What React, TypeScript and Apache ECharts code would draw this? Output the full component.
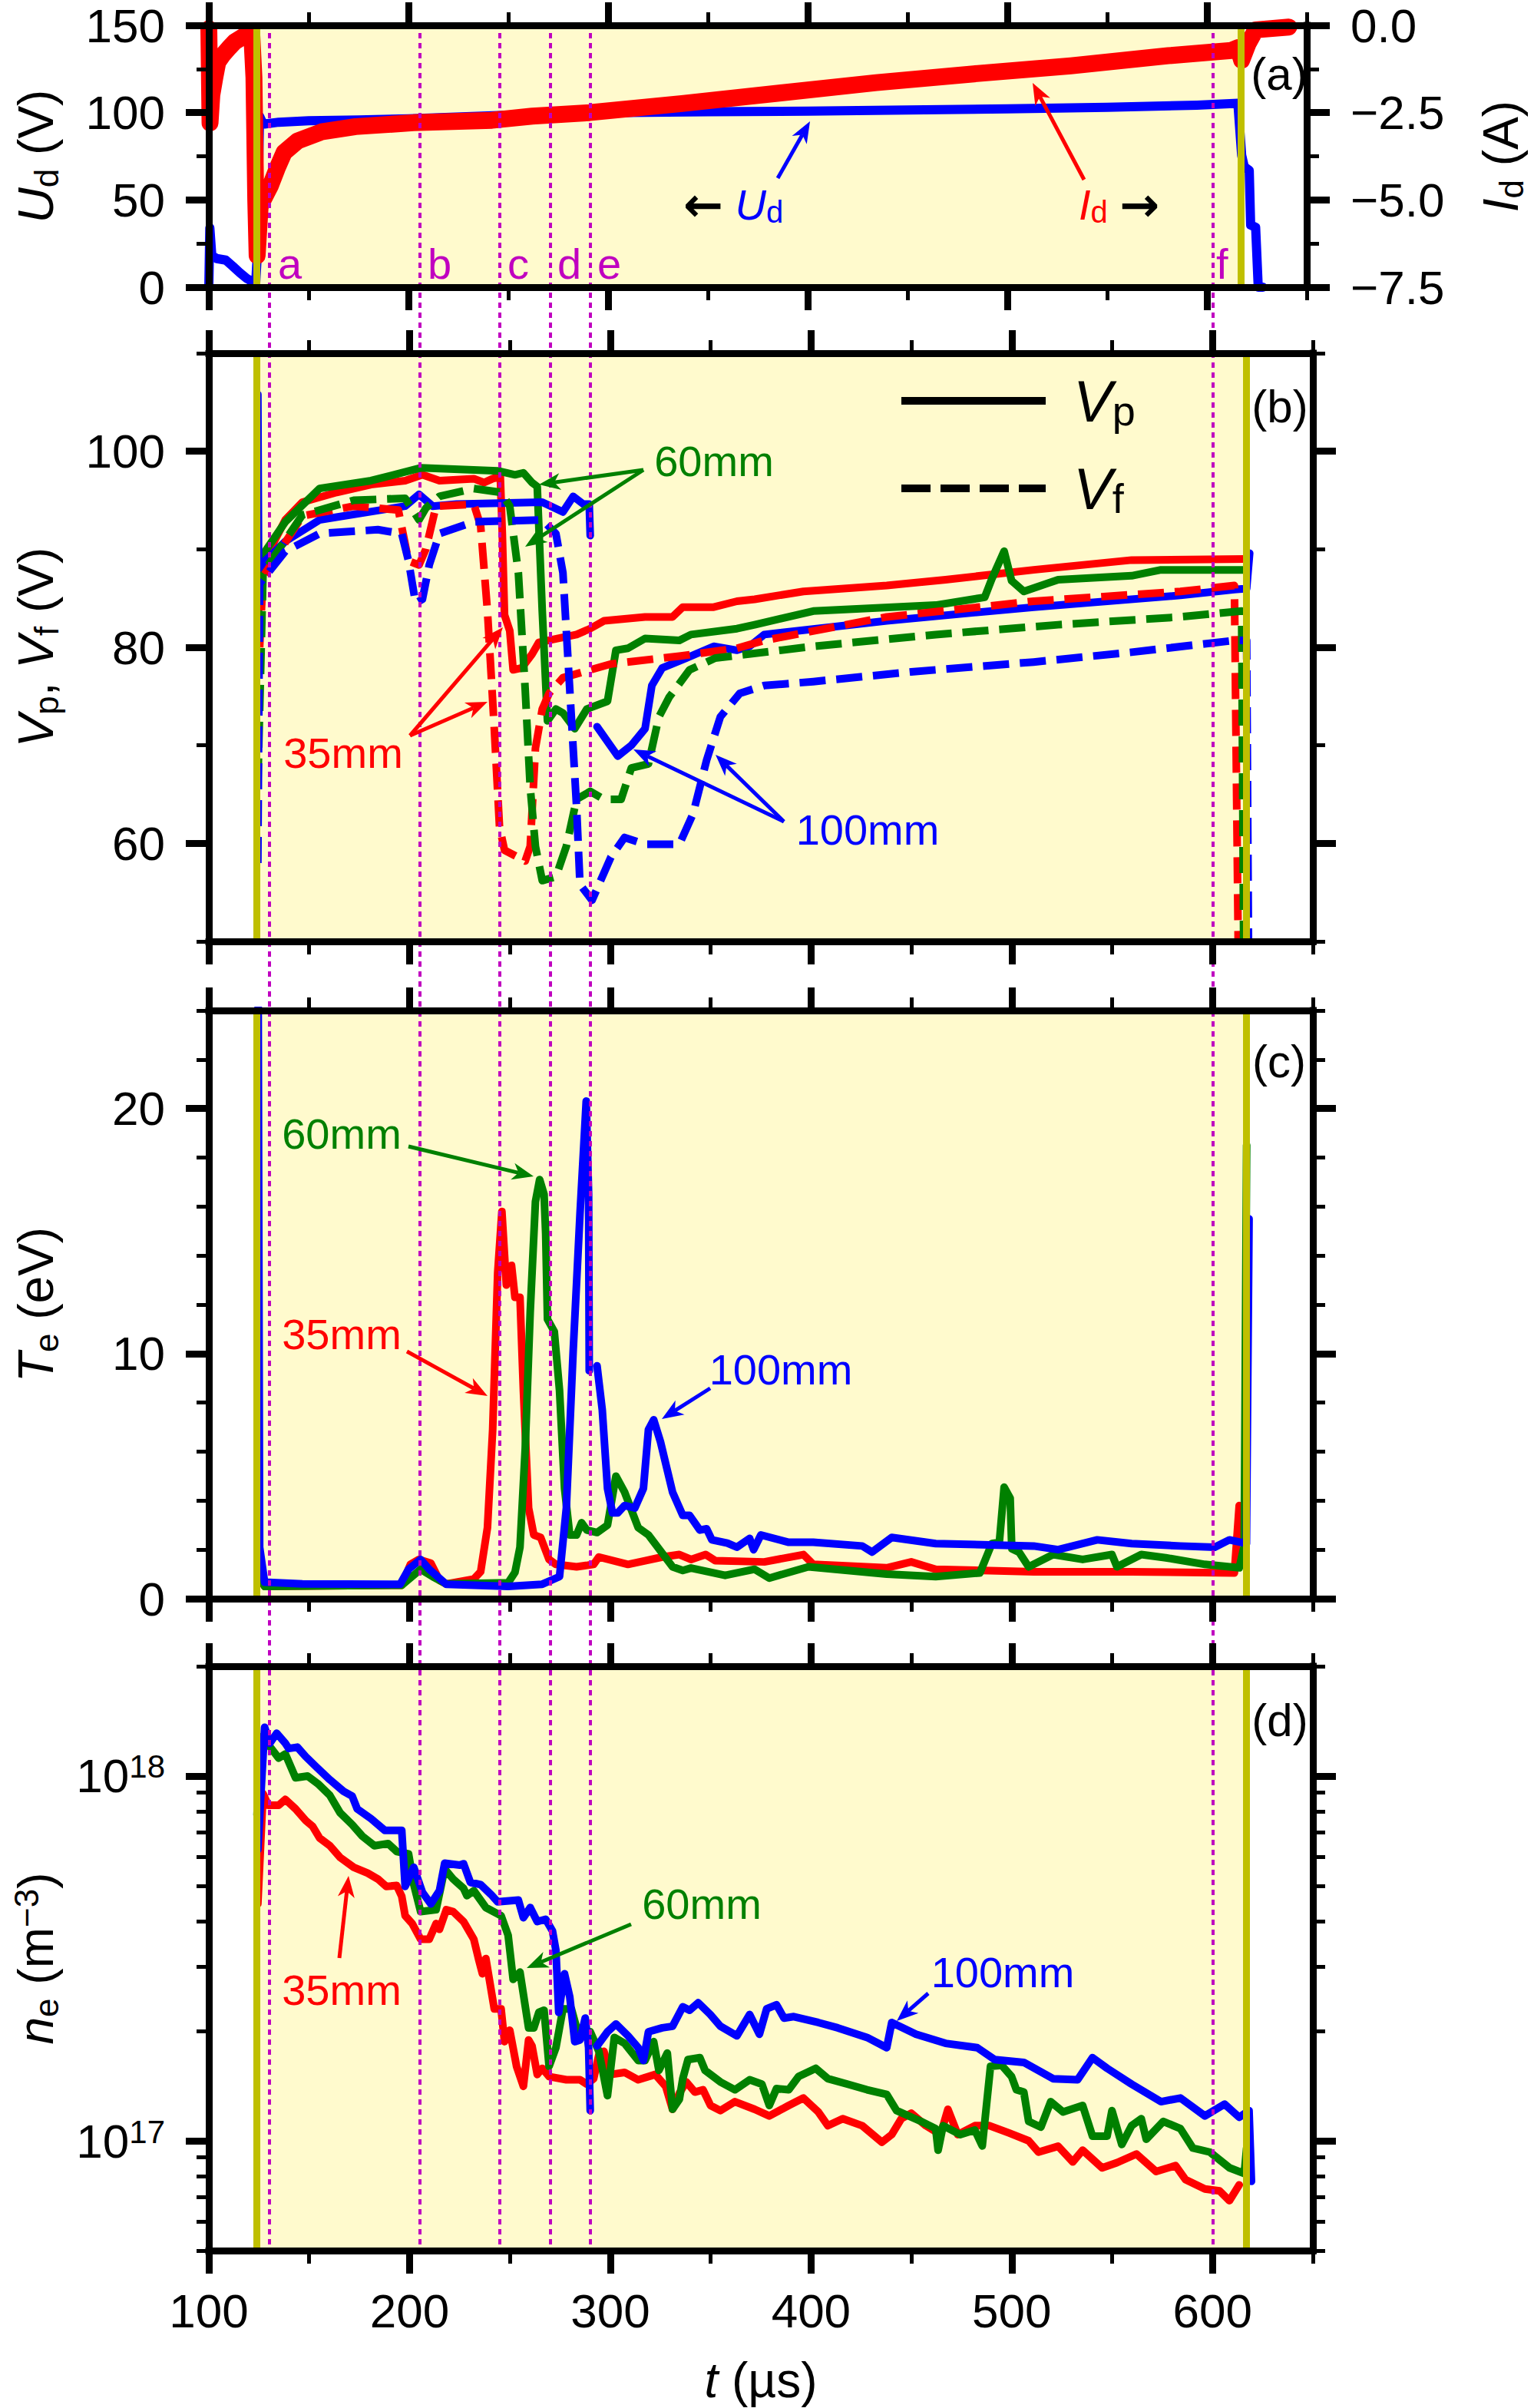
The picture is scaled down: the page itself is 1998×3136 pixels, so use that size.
import React, { useEffect, useRef } from "react";
import * as echarts from "echarts";

type Pt = [number, number | null];

// ---------- axis ticks ----------
const X_MAJOR = [100, 200, 300, 400, 500, 600];
const X_MINOR = [150, 250, 350, 450, 550, 650];
const UD_MAJOR = [0, 50, 100, 150];
const UD_MINOR = [25, 75, 125];
const ID_MAJOR = [-7.5, -5, -2.5, 0];
const ID_MINOR = [-6.25, -3.75, -1.25];
const V_MAJOR = [60, 80, 100];
const V_MINOR = [50, 70, 90, 110];
const TE_MAJOR = [0, 10, 20];
const TE_MINOR = [2, 4, 6, 8, 12, 14, 16, 18, 22, 24];
const NE_MAJOR = [1e17, 1e18];
const NE_MINOR = [5e16, 6e16, 7e16, 8e16, 9e16, 2e17, 3e17, 4e17, 5e17, 6e17, 7e17, 8e17, 9e17, 2e18];

// ---------- events ----------
const MARKER_T = [130, 205, 245, 270, 290, 600];
const MARKER_LABELS = ["a", "b", "c", "d", "e", "f"];
const BAND_T = [124, 617];

// ---------- (a) discharge voltage (V) and current (A) ----------
const UD: Pt[] = [
  [100, 0], [100.5, 34], [101.5, 18], [104, 16.4], [108.5, 15.5], [112, 12], [115.5, 8.3], [119, 5],
  [122, 3], [123.4, 1], [124.2, 17], [125.4, 97.9], [126.6, 95], [128, 93.5], [135, 94.5], [150, 95.3],
  [175, 95.8], [200, 96.5], [250, 98.5], [300, 100], [350, 100.5], [400, 100.8], [450, 101.5],
  [500, 102.2], [550, 103], [595, 104.3], [615.5, 105.3], [617.4, 75.6], [618.7, 69], [621.2, 66.9],
  [621.9, 35.6], [624.4, 34.3], [625.7, 0], [628, 0],
];
const ID: Pt[] = [
  [100, -0.1], [100.6, -2.8], [101.5, -2.0], [103, -1.5], [104.5, -1.05], [107, -0.85], [110, -0.65],
  [113, -0.47], [117, -0.33], [121.5, -0.24], [122.6, -1.5], [123.5, -5.0], [124.2, -6.6], [125.7, -5.2],
  [127.4, -4.98], [130.8, -4.6], [134.2, -4.1], [137.7, -3.64], [144.5, -3.31], [156.5, -3.05],
  [173.5, -2.9], [202.5, -2.79], [241.8, -2.72], [262, -2.6], [290.7, -2.5], [337, -2.24], [385.7, -1.94],
  [434.4, -1.64], [483.2, -1.39], [531.8, -1.16], [580.6, -0.87], [612.2, -0.72], [615.5, -0.64],
  [617.4, -1.0], [620.6, -0.53], [624.4, -0.13], [641, -0.05],
];

// ---------- (b) plasma potential Vp and floating potential Vf (V) ----------
const VP_35: Pt[] = [
  [125.3, 84], [127.0, 88.0], [129.6, 89.6], [138.1, 93.0], [146.6, 94.8], [163.7, 95.8], [180.8, 96.6],
  [197.8, 97.0], [206.4, 97.6], [214.9, 97.0], [232.0, 97.2], [237.1, 96.8], [241.4, 97.2], [245.2, 97.4],
  [246.2, 91.6], [247.3, 83.3], [249.9, 81.7], [251.6, 77.7], [255.9, 77.9], [261.0, 79.3], [264.4, 80.5],
  [283.2, 81.3], [289.9, 81.9], [296.8, 82.7], [317.3, 83.1], [331.0, 83.1], [336.1, 84.1], [351.5, 84.1],
  [363.1, 84.7], [371.9, 84.9], [396.2, 85.7], [437.7, 86.3], [467.0, 86.9], [510.9, 87.9], [559.7, 88.9],
  [615.8, 89.0],
];
const VP_60: Pt[] = [
  [125.3, 84], [126.1, 89.2], [138.1, 92.8], [155.2, 96.2], [180.8, 97.0], [205.5, 98.3], [243.9, 98.0],
  [252.5, 97.6], [256.7, 97.8], [261.0, 96.8], [263.6, 96.4], [266.1, 83.7], [268.7, 72.5], [272.9, 73.7],
  [276.4, 73.3], [282.3, 71.7], [288.3, 73.7], [298.6, 74.5], [302.8, 79.7], [308.8, 79.9], [317.3, 80.9],
  [334.4, 80.7], [340.2, 81.3], [363.1, 81.9], [371.9, 82.3], [401.1, 83.7], [462.1, 84.3], [486.5, 85.1],
  [490.1, 87.0], [496.2, 89.8], [499.9, 86.8], [506.0, 85.7], [523.1, 86.9], [559.7, 87.3], [574.3, 87.9],
  [615.8, 87.9],
];
const VP_100: Pt[] = [
  [124.4, 105.8], [124.8, 88.0], [127.0, 88.6], [138.1, 90.8], [155.2, 93.0], [197.8, 94.4], [204.7, 95.6],
  [211.5, 94.4], [223.4, 94.6], [266.1, 94.8], [276.4, 93.8], [281.5, 95.4], [286.6, 94.6], [289.5, 94.6],
  [290.0, 91.4], [290.6, null], [293.4, 71.9], [303.7, 68.9], [310.5, 70.0], [317.3, 71.7], [320.7, 76.1],
  [325.9, 77.9], [337.8, 78.9], [351.5, 80.1], [363.1, 79.7], [369.4, 80.1], [376.7, 81.3], [437.7, 82.7],
  [510.9, 84.1], [584.0, 85.3], [610.9, 85.9], [617.0, 86.0], [618.5, 89.6],
];
const VF_35: Pt[] = [
  [125.3, 80], [127.0, 87.2], [146.6, 93.4], [172.2, 94.4], [194.4, 94.0], [199.5, 88.8], [204.7, 88.4],
  [208.1, 90.0], [213.2, 94.4], [232.0, 94.6], [235.4, 92.4], [238.8, 83.7], [242.2, 71.7], [244.8, 61.7],
  [247.3, 59.3], [257.6, 58.2], [260.1, 59.7], [262.7, 69.7], [266.1, 73.7], [269.5, 75.3], [276.4, 76.9],
  [300.3, 78.3], [334.4, 79.1], [363.1, 79.9], [376.7, 80.7], [437.7, 83.1], [510.9, 84.7], [584.0, 85.7],
  [610.9, 86.3], [613.3, 40],
];
const VF_60: Pt[] = [
  [124.4, 66], [127.0, 87.6], [146.6, 93.5], [172.2, 95.0], [197.8, 95.2], [204.7, 93.0], [208.1, 94.2],
  [214.9, 95.4], [232.0, 96.2], [245.6, 95.8], [249.9, 94.4], [254.2, 87.6], [257.6, 75.7], [260.1, 65.7],
  [262.7, 59.7], [266.1, 56.2], [272.9, 56.6], [278.1, 59.7], [283.2, 64.5], [290.0, 65.3], [296.8, 64.5],
  [305.4, 64.5], [310.5, 67.7], [319.0, 68.1], [324.2, 72.9], [329.3, 74.9], [339.5, 77.7], [352.3, 78.9],
  [401.1, 80.1], [462.1, 81.3], [523.1, 82.3], [584.0, 83.1], [614.5, 83.7], [615.8, 40],
];
const VF_100: Pt[] = [
  [124.4, 58.0], [125.3, 86.5], [138.1, 89.8], [155.2, 91.6], [184.2, 92.0], [196.1, 91.6], [199.5, 88.8],
  [203.0, 84.5], [206.4, 84.9], [209.8, 88.4], [214.9, 91.6], [232.0, 92.8], [266.1, 93.0], [272.9, 91.6],
  [276.4, 87.6], [279.8, 75.7], [283.2, 63.7], [284.9, 55.8], [290.9, 54.2], [300.3, 58.6], [307.1, 60.6],
  [317.3, 59.9], [334.4, 59.9], [341.2, 63.0], [348.0, 68.5], [354.8, 72.9], [364.5, 75.3], [376.7, 76.1],
  [401.1, 76.5], [449.9, 77.5], [510.9, 78.5], [559.7, 79.5], [610.9, 80.7], [617.0, 80.7], [618.2, 40],
];

// ---------- (c) electron temperature (eV) ----------
const TE_35: Pt[] = [
  [124.4, 3.0], [125.3, 0.8], [127.8, 0.5], [196.1, 0.55], [200.4, 1.4], [204.7, 1.6], [210.6, 1.45],
  [214.9, 0.75], [218.3, 0.6], [232.0, 0.8], [235.4, 1.1], [238.8, 2.9], [241.4, 6.9], [243.9, 13.3],
  [246.0, 15.8], [248.2, 12.8], [250.8, 13.6], [252.5, 12.3], [255.0, 12.3], [256.7, 8.5], [259.3, 3.7],
  [261.9, 2.6], [265.3, 2.5], [269.5, 1.6], [272.9, 1.4], [283.2, 1.3], [291.7, 1.4], [294.3, 1.7],
  [308.8, 1.4], [317.3, 1.55], [325.9, 1.7], [334.4, 1.8], [340.2, 1.6], [347.5, 1.8], [352.3, 1.55],
  [376.7, 1.5], [396.2, 1.8], [401.1, 1.4], [437.7, 1.26], [449.9, 1.5], [462.1, 1.2], [510.9, 1.1],
  [559.7, 1.1], [610.9, 1.05], [613.3, 3.8],
];
const TE_60: Pt[] = [
  [124.4, 6.8], [125.3, 1.0], [127.8, 0.5], [196.1, 0.55], [205.5, 1.2], [211.5, 0.9], [218.3, 0.6],
  [249.1, 0.65], [252.5, 1.07], [255.0, 2.1], [257.6, 6.1], [260.1, 11.7], [262.7, 16.2], [264.8, 17.1],
  [267.0, 16.5], [267.8, 14.9], [268.7, 11.4], [272.1, 10.9], [274.7, 8.5], [277.2, 4.5], [279.8, 2.6],
  [283.2, 2.6], [285.7, 3.1], [288.3, 2.8], [293.4, 2.7], [298.6, 3.0], [302.8, 5.0], [307.1, 4.35],
  [313.9, 2.9], [319.0, 2.6], [325.0, 1.95], [331.0, 1.3], [336.1, 1.15], [340.2, 1.25], [357.2, 0.95],
  [371.9, 1.2], [379.2, 0.84], [398.7, 1.3], [437.7, 1.0], [462.1, 0.9], [484.1, 1.05], [490.1, 2.25],
  [493.8, 2.3], [496.2, 4.55], [499.2, 4.1], [500.0, 2.04], [503.6, 1.9], [508.4, 1.3], [520.6, 1.8],
  [535.3, 1.6], [549.9, 1.8], [552.4, 1.3], [564.5, 1.8], [576.7, 1.67], [596.2, 1.4], [613.3, 1.26],
  [615.8, 2.15], [617.0, 18.5],
];
const TE_100: Pt[] = [
  [124.4, 30], [125.3, 2.1], [127.8, 0.67], [146.6, 0.6], [195.3, 0.59], [199.5, 1.2], [205.5, 1.6],
  [209.8, 1.2], [218.3, 0.59], [249.1, 0.5], [266.1, 0.59], [274.7, 0.9], [278.1, 3.7], [281.5, 10.1],
  [284.9, 15.7], [288.0, 20.3], [289.2, 16.5], [289.5, 9.3], [291.0, null], [293.4, 9.5], [296.0, 7.7],
  [298.6, 4.5], [301.1, 3.5], [303.7, 3.5], [307.1, 3.8], [312.2, 3.7], [316.5, 4.5], [319.0, 6.9],
  [321.6, 7.3], [325.0, 6.4], [331.0, 4.35], [336.1, 3.4], [339.5, 3.4], [344.6, 2.8], [348.0, 2.85],
  [350.6, 2.4], [358.3, 2.27], [363.1, 2.1], [369.4, 2.46], [371.4, 2.0], [375.0, 2.6], [388.9, 2.3],
  [401.1, 2.3], [425.5, 2.15], [430.4, 1.9], [440.2, 2.5], [462.1, 2.25], [510.9, 2.15], [523.1, 2.0],
  [542.6, 2.4], [559.7, 2.25], [584.0, 2.15], [601.1, 2.1], [608.4, 2.4], [616.9, 2.25], [618.2, 15.5],
];

// ---------- (d) electron density (x1e17 m^-3) ----------
const NE_UNIT = 1e17;
const NE_35: Pt[] = [
  [124.4, 4.46], [127.0, 8.95], [129.6, 8.32], [134.8, 8.32], [138.1, 8.63], [143.2, 8.13], [148.3, 7.55],
  [151.7, 7.28], [155.2, 6.76], [160.3, 6.44], [165.4, 5.98], [172.2, 5.62], [179.1, 5.42], [184.2, 5.22],
  [188.4, 4.98], [193.6, 5.01], [196.1, 4.68], [197.8, 4.14], [201.3, 3.94], [205.5, 3.57], [209.8, 3.57],
  [213.2, 3.94], [214.9, 3.8], [218.3, 4.3], [221.7, 4.25], [226.9, 3.99], [232.0, 3.57], [234.5, 3.13],
  [236.3, 2.87], [238.0, 3.16], [242.2, 2.3], [245.6, 2.3], [247.3, 1.87], [249.9, 2.01], [253.3, 1.6],
  [256.7, 1.41], [259.3, 1.89], [261.0, 1.82], [263.6, 1.52], [266.1, 1.58], [269.5, 1.5], [278.1, 1.47],
  [284.9, 1.47], [288.3, 1.43], [291.7, 1.48], [294.3, 1.72], [296.8, 1.76], [300.3, 1.52], [307.1, 1.54],
  [313.9, 1.47], [322.4, 1.52], [327.6, 1.41], [331.0, 1.22], [334.4, 1.35], [337.8, 1.45], [342.1, 1.36],
  [346.2, 1.38], [349.9, 1.25], [354.8, 1.21], [362.1, 1.28], [371.9, 1.22], [379.2, 1.17], [388.9, 1.25],
  [396.2, 1.31], [403.6, 1.2], [408.4, 1.1], [415.8, 1.15], [425.5, 1.1], [435.3, 0.991], [440.2, 1.04],
  [445.0, 1.15], [449.9, 1.19], [457.2, 1.1], [464.5, 1.04], [468.2, 1.22], [473.1, 1.04], [481.6, 1.1],
  [488.9, 1.1], [498.7, 1.05], [508.4, 1.0], [513.3, 0.931], [523.1, 0.966], [530.4, 0.875], [535.3, 0.942],
  [545.0, 0.843], [552.4, 0.871], [562.1, 0.92], [571.9, 0.824], [581.6, 0.855], [586.5, 0.783],
  [596.2, 0.738], [603.5, 0.729], [608.4, 0.685], [613.3, 0.757],
];
const NE_60: Pt[] = [
  [124.0, 7.83], [126.1, 12.8], [129.6, 12.2], [134.8, 11.2], [138.1, 11.5], [143.2, 9.89], [149.2, 10.0],
  [154.3, 9.53], [160.3, 8.85], [165.4, 7.93], [171.4, 7.36], [176.5, 6.84], [182.5, 6.44], [189.3, 6.53],
  [193.6, 6.21], [199.5, 6.12], [202.1, 5.04], [205.5, 4.25], [213.2, 4.3], [217.5, 5.56], [221.7, 5.22],
  [226.9, 4.92], [228.6, 4.7], [232.0, 4.85], [238.0, 4.36], [245.6, 4.14], [249.1, 3.66], [251.6, 2.77],
  [255.0, 2.9], [259.3, 2.04], [261.9, 2.04], [264.4, 2.25], [267.0, 2.28], [269.5, 1.6], [272.9, 1.8],
  [276.4, 2.3], [280.6, 2.3], [283.2, 2.04], [285.7, 1.99], [290.0, 1.99], [294.3, 1.76], [298.6, 1.33],
  [302.0, 1.92], [307.1, 1.85], [313.9, 1.66], [317.3, 1.66], [321.6, 1.87], [324.2, 1.56], [328.4, 1.74],
  [331.0, 1.22], [334.4, 1.3], [336.1, 1.48], [338.7, 1.67], [344.6, 1.69], [347.2, 1.56], [354.8, 1.45],
  [362.1, 1.38], [369.4, 1.47], [375.5, 1.43], [379.2, 1.25], [382.8, 1.39], [388.9, 1.38], [393.8, 1.5],
  [402.3, 1.58], [408.4, 1.48], [418.2, 1.43], [427.9, 1.38], [437.7, 1.34], [442.6, 1.21], [454.8, 1.13],
  [462.1, 1.08], [463.3, 0.942], [465.8, 1.1], [474.3, 1.04], [481.6, 1.07], [485.3, 0.968], [489.4, 1.6],
  [495.0, 1.61], [499.9, 1.5], [502.3, 1.38], [506.0, 1.36], [508.4, 1.13], [514.5, 1.09], [519.4, 1.28],
  [525.5, 1.2], [535.3, 1.25], [540.2, 1.03], [547.5, 1.03], [549.9, 1.21], [554.8, 0.977], [559.7, 1.1],
  [564.5, 1.15], [567.0, 1.01], [575.5, 1.13], [584.0, 1.08], [590.2, 0.955], [598.7, 0.931], [608.5, 0.843],
  [615.8, 0.813], [617.0, 0.955], [618.2, 0.794],
];
const NE_100: Pt[] = [
  [124.4, 6.28], [127.8, 13.6], [130.4, 12.3], [133.8, 13.1], [138.1, 12.3], [139.8, 11.9], [144.1, 12.0],
  [148.3, 11.3], [153.5, 10.6], [160.3, 9.77], [167.1, 9.08], [171.4, 8.81], [173.9, 8.13], [180.8, 7.64],
  [187.6, 7.1], [196.1, 7.1], [197.8, 4.98], [202.1, 5.62], [206.4, 4.8], [210.6, 4.46], [214.9, 4.85],
  [217.5, 5.77], [225.1, 5.7], [226.9, 5.75], [230.3, 5.11], [235.4, 5.04], [240.5, 4.74], [243.9, 4.52],
  [254.2, 4.57], [256.7, 4.09], [260.1, 4.36], [263.6, 3.99], [267.8, 4.05], [271.2, 3.76], [272.9, 3.33],
  [274.3, 2.25], [277.2, 2.87], [279.8, 2.48], [282.3, 1.87], [284.9, 1.89], [287.5, 2.17], [289.2, 1.8],
  [290.0, 1.21], [291.0, null], [293.4, 1.82], [298.6, 1.99], [302.8, 2.09], [308.8, 1.94], [313.9, 1.8],
  [316.5, 1.66], [319.0, 1.99], [325.9, 2.04], [331.0, 2.06], [336.1, 2.33], [339.5, 2.28], [343.8, 2.39],
  [349.8, 2.22], [354.9, 2.06], [363.1, 1.94], [369.4, 2.22], [374.3, 1.96], [377.9, 2.3], [382.8, 2.36],
  [386.5, 2.17], [391.4, 2.19], [403.6, 2.11], [413.3, 2.04], [427.9, 1.92], [437.7, 1.8], [440.2, 2.11],
  [452.3, 1.96], [467.0, 1.85], [482.8, 1.8], [491.4, 1.67], [506.0, 1.64], [520.6, 1.48], [532.8, 1.47],
  [540.2, 1.69], [547.5, 1.58], [559.7, 1.43], [574.3, 1.28], [584.0, 1.31], [596.2, 1.17], [606.0, 1.26],
  [613.3, 1.16], [618.2, 1.21], [619.4, 0.774],
];

// ---------- styling ----------
const FONT = "'Liberation Sans', Arial, Helvetica, sans-serif";
const ARROW_FONT = "'DejaVu Sans', 'Liberation Sans', sans-serif";
const RED = "#ff0000";
const GREEN = "#008000";
const BLUE = "#0000ff";
const YELLOW = "#fffacd";
const OLIVE = "#bfbf00";
const MAG = "#c000c0";
const PANELS = [
  { top: 33, height: 341 },
  { top: 460, height: 766 },
  { top: 1316, height: 766 },
  { top: 2170, height: 766 },
];
const GL = 272;
const GR = 288;

const nameRich = {
  i: { fontStyle: "italic", fontSize: 64, fontFamily: FONT, color: "#000", lineHeight: 70 },
  s: { fontSize: 44, fontFamily: FONT, color: "#000", verticalAlign: "bottom", lineHeight: 26 },
  p: { fontSize: 44, fontFamily: FONT, color: "#000", verticalAlign: "top", lineHeight: 26 },
};
const nameStyle = { fontSize: 64, fontFamily: FONT, color: "#000", lineHeight: 70, rich: nameRich };
const labelBase = { fontSize: 62, fontFamily: FONT, color: "#000" };

function buildOption() {
  const grid: any[] = PANELS.map((p) => ({ left: GL, right: GR, top: p.top, height: p.height }));
  grid.push({ left: GL, right: GR, top: 33, height: 2903 });
  const xAxis: any[] = [];
  const yAxis: any[] = [];

  const addX = (g: number, labels: boolean) => {
    const idx = xAxis.length;
    for (const pos of ["bottom", "top"]) {
      const main: any = {
        type: "value", gridIndex: g, min: 100, max: 650, position: pos, z: 6,
        axisLine: { show: true, onZero: false, lineStyle: { color: "#000", width: 9, cap: "square" } },
        axisTick: { show: true, inside: false, customValues: X_MAJOR, length: 30, lineStyle: { color: "#000", width: 9 } },
        axisLabel: pos === "bottom" && labels ? { show: true, customValues: X_MAJOR, margin: 47, ...labelBase } : { show: false },
        splitLine: { show: false },
      };
      if (pos === "bottom" && labels) {
        main.name = "{i|t} (µs)";
        main.nameLocation = "middle";
        main.nameGap = 134;
        main.nameTextStyle = nameStyle;
      }
      xAxis.push(main);
      xAxis.push({
        type: "value", gridIndex: g, min: 100, max: 650, position: pos, z: 6,
        axisLine: { show: false, onZero: false },
        axisTick: { show: true, inside: false, customValues: X_MINOR, length: 17, lineStyle: { color: "#000", width: 5 } },
        axisLabel: { show: false }, splitLine: { show: false },
      });
    }
    return idx;
  };

  const addY = (
    g: number, pos: string, min: number, max: number, major: number[], minor: number[],
    label: any | null, name: string | null, nameGap = 190,
  ) => {
    const idx = yAxis.length;
    const main: any = {
      type: "value", gridIndex: g, min, max, position: pos, z: 6,
      axisLine: { show: true, onZero: false, lineStyle: { color: "#000", width: 9, cap: "square" } },
      axisTick: { show: true, inside: false, customValues: major, length: 30, lineStyle: { color: "#000", width: 9 } },
      axisLabel: label ? { show: true, customValues: major, margin: 57, ...labelBase, ...label } : { show: false },
      splitLine: { show: false },
    };
    if (name) {
      main.name = name;
      main.nameLocation = "middle";
      main.nameGap = nameGap;
      main.nameRotate = 90;
      main.nameTextStyle = nameStyle;
    }
    yAxis.push(main);
    yAxis.push({
      type: "value", gridIndex: g, min, max, position: pos, z: 6,
      axisLine: { show: false, onZero: false },
      axisTick: { show: true, inside: false, customValues: minor, length: 16, lineStyle: { color: "#000", width: 5 } },
      axisLabel: { show: false }, splitLine: { show: false },
    });
    return idx;
  };

  const xa = addX(0, false);
  const xb = addX(1, false);
  const xc = addX(2, false);
  const xd = addX(3, true);

  const yaL = addY(0, "left", 0, 150, UD_MAJOR, UD_MINOR, {}, "{i|U}{s|d} (V)");
  const yaR = addY(0, "right", -7.5, 0, ID_MAJOR, ID_MINOR, {
    formatter: (v: number) => (v === 0 ? "0.0" : "\u2212" + Math.abs(v).toFixed(1)),
  }, "{i|I}{s|d} (A)", 218);
  const yb = addY(1, "left", 50, 110, V_MAJOR, V_MINOR, {}, "{i|V}{s|p}, {i|V}{s|f} (V)");
  addY(1, "right", 50, 110, V_MAJOR, V_MINOR, null, null);
  const yc = addY(2, "left", 0, 24, TE_MAJOR, TE_MINOR, {}, "{i|T}{s|e} (eV)");
  addY(2, "right", 0, 24, TE_MAJOR, TE_MINOR, null, null);

  const yd = yAxis.length;
  yAxis.push({
    type: "log", logBase: 10, gridIndex: 3, min: 5e16, max: 2e18, position: "left", z: 6,
    axisLine: { show: true, onZero: false, lineStyle: { color: "#000", width: 9, cap: "square" } },
    axisTick: { show: false }, axisLabel: { show: false }, splitLine: { show: false }, minorTick: { show: false },
  });
  const lMin = Math.log10(5e16);
  const lMax = Math.log10(2e18);
  const lMaj = NE_MAJOR.map((v) => Math.log10(v));
  const lMin2 = NE_MINOR.map((v) => Math.log10(v));
  addY(3, "left", lMin, lMax, lMaj, lMin2, {
    formatter: (v: number) => "{b|10}{s|" + Math.round(v) + "}",
    rich: {
      b: { fontSize: 62, fontFamily: FONT, color: "#000", lineHeight: 66 },
      s: { fontSize: 42, fontFamily: FONT, color: "#000", verticalAlign: "top", lineHeight: 22 },
    },
  }, "{i|n}{s|e} (m{p|\u22123})");
  addY(3, "right", lMin, lMax, lMaj, lMin2, null, null);

  const xs = xAxis.length;
  xAxis.push({ type: "value", gridIndex: 4, min: 100, max: 650, show: false });
  const ys = yAxis.length;
  yAxis.push({ type: "value", gridIndex: 4, min: 0, max: 1, show: false });

  const band = (xi: number, yi: number) => ({
    type: "line", data: [], xAxisIndex: xi, yAxisIndex: yi, z: 1, silent: true,
    markArea: { silent: true, itemStyle: { color: YELLOW }, data: [[{ xAxis: BAND_T[0] }, { xAxis: BAND_T[1] }]] },
    markLine: {
      silent: true, symbol: ["none", "none"], label: { show: false },
      lineStyle: { color: OLIVE, width: 9, type: "solid" },
      data: BAND_T.map((t) => ({ xAxis: t })),
    },
  });

  const line = (data: Pt[], xi: number, yi: number, color: string, width: number, dashed = false, scale = 1) => ({
    type: "line",
    data: scale === 1 ? data : data.map((p) => [p[0], p[1] == null ? null : (p[1] as number) * scale]),
    xAxisIndex: xi, yAxisIndex: yi, showSymbol: false, symbol: "none", z: 3, silent: true,
    clip: true, connectNulls: false, emphasis: { disabled: true },
    lineStyle: { color, width, type: dashed ? [34, 14] : "solid", cap: dashed ? "butt" : "round", join: "round" },
  });

  const W = 10;
  const series: any[] = [
    band(xa, yaL), band(xb, yb), band(xc, yc), band(xd, yd),
    {
      type: "line", data: [], xAxisIndex: xs, yAxisIndex: ys, z: 2, silent: true,
      markLine: {
        silent: true, symbol: ["none", "none"], label: { show: false },
        lineStyle: { color: MAG, width: 4, type: [7, 6] },
        data: MARKER_T.map((t) => ({ xAxis: t })),
      },
    },
    line(UD, xa, yaL, BLUE, 12),
    line(ID, xa, yaR, RED, 22),
    line(VP_35, xb, yb, RED, W),
    line(VP_60, xb, yb, GREEN, W),
    line(VP_100, xb, yb, BLUE, W),
    line(VF_35, xb, yb, RED, W, true),
    line(VF_60, xb, yb, GREEN, W, true),
    line(VF_100, xb, yb, BLUE, W, true),
    line(TE_35, xc, yc, RED, W),
    line(TE_60, xc, yc, GREEN, W),
    line(TE_100, xc, yc, BLUE, W),
    line(NE_35, xd, yd, RED, W, false, NE_UNIT),
    line(NE_60, xd, yd, GREEN, W, false, NE_UNIT),
    line(NE_100, xd, yd, BLUE, W, false, NE_UNIT),
  ];

  return {
    animation: false,
    backgroundColor: "#ffffff",
    textStyle: { fontFamily: FONT },
    grid, xAxis, yAxis, series,
  };
}

// ---------- annotations ----------
function text(x: number, y: number, t: string, size: number, fill: string, align = "center", rich?: any) {
  return {
    type: "text", x, y, z: 50, silent: true,
    style: {
      text: t, fill, fontSize: size, fontFamily: FONT,
      align, verticalAlign: "middle", textAlign: align, textVerticalAlign: "middle",
      rich,
    },
  };
}

function arrow(x1: number, y1: number, x2: number, y2: number, color: string) {
  const dx = x2 - x1;
  const dy = y2 - y1;
  const L = Math.hypot(dx, dy);
  const ux = dx / L;
  const uy = dy / L;
  const hl = 28;
  const hw = 11;
  const bx = x2 - ux * hl;
  const by = y2 - uy * hl;
  const mx = x2 - ux * hl * 0.72;
  const my = y2 - uy * hl * 0.72;
  return [
    { type: "line", z: 50, silent: true, shape: { x1, y1, x2: mx, y2: my }, style: { stroke: color, lineWidth: 5 } },
    {
      type: "polygon", z: 50, silent: true,
      shape: { points: [[x2, y2], [bx - uy * hw, by + ux * hw], [mx, my], [bx + uy * hw, by - ux * hw]] },
      style: { fill: color },
    },
  ];
}

function buildGraphic(markerX: number[]) {
  const sub = (fill: string, size: number) => ({ fontSize: size, fontFamily: FONT, fill, verticalAlign: "bottom", lineHeight: 24 });
  const arrowGlyph = { fontSize: 62, fontFamily: ARROW_FONT, fill: "#000", fontWeight: "bold", lineHeight: 60 };
  const els: any[] = [];
  // panel letters
  els.push(text(1666, 96, "(a)", 60, "#000"));
  els.push(text(1667, 529, "(b)", 60, "#000"));
  els.push(text(1666, 1382, "(c)", 60, "#000"));
  els.push(text(1667, 2240, "(d)", 60, "#000"));
  // event letters
  MARKER_LABELS.forEach((l, i) => els.push(text(markerX[i] + 12, 343, l, 56, MAG, "left")));
  // panel (a)
  els.push(text(890, 266, "{k|\u2190} {u|U}{s|d}", 56, "#000", "left", {
    k: arrowGlyph,
    u: { fontSize: 56, fontFamily: FONT, fill: BLUE, fontStyle: "italic", lineHeight: 60 },
    s: sub(BLUE, 40),
  }));
  els.push(text(1405, 266, "{u|I}{s|d} {k|\u2192}", 56, "#000", "left", {
    k: arrowGlyph,
    u: { fontSize: 56, fontFamily: FONT, fill: RED, fontStyle: "italic", lineHeight: 60 },
    s: sub(RED, 40),
  }));
  els.push(...arrow(1013, 232, 1055, 158, BLUE));
  els.push(...arrow(1412, 234, 1345, 108, RED));
  // panel (b)
  els.push(text(930, 600, "60mm", 56, GREEN));
  els.push(text(447, 980, "35mm", 56, RED));
  els.push(text(1130, 1080, "100mm", 56, BLUE));
  els.push(...arrow(838, 612, 702, 631, GREEN));
  els.push(...arrow(838, 612, 684, 712, GREEN));
  els.push(...arrow(534, 958, 655, 817, RED));
  els.push(...arrow(534, 958, 635, 914, RED));
  els.push(...arrow(1021, 1070, 825, 976, BLUE));
  els.push(...arrow(1021, 1070, 932, 983, BLUE));
  // legend
  els.push({ type: "line", z: 50, silent: true, shape: { x1: 1174, y1: 522, x2: 1362, y2: 522 }, style: { stroke: "#000", lineWidth: 10 } });
  els.push({ type: "line", z: 50, silent: true, shape: { x1: 1174, y1: 636, x2: 1362, y2: 636 }, style: { stroke: "#000", lineWidth: 10, lineDash: [38, 13] } });
  const legRich = {
    v: { fontSize: 76, fontFamily: FONT, fill: "#000", fontStyle: "italic", lineHeight: 80 },
    s: { fontSize: 54, fontFamily: FONT, fill: "#000", verticalAlign: "bottom", lineHeight: 30 },
  };
  els.push(text(1398, 522, "{v|V}{s|p}", 76, "#000", "left", legRich));
  els.push(text(1398, 636, "{v|V}{s|f}", 76, "#000", "left", legRich));
  // panel (c)
  els.push(text(445, 1476, "60mm", 56, GREEN));
  els.push(text(445, 1737, "35mm", 56, RED));
  els.push(text(1017, 1783, "100mm", 56, BLUE));
  els.push(...arrow(532, 1493, 695, 1532, GREEN));
  els.push(...arrow(530, 1760, 635, 1818, RED));
  els.push(...arrow(925, 1808, 862, 1848, BLUE));
  // panel (d)
  els.push(text(914, 2479, "60mm", 56, GREEN));
  els.push(text(445, 2591, "35mm", 56, RED));
  els.push(text(1306, 2568, "100mm", 56, BLUE));
  els.push(...arrow(822, 2506, 686, 2563, GREEN));
  els.push(...arrow(442, 2550, 454, 2443, RED));
  els.push(...arrow(1209, 2596, 1168, 2632, BLUE));
  return els;
}

export default function App() {
  const ref = useRef<HTMLDivElement | null>(null);
  useEffect(() => {
    if (!ref.current) return;
    const chart = echarts.init(ref.current, null, { renderer: "svg" });
    chart.setOption(buildOption() as any);
    const markerX = MARKER_T.map((t) => {
      const p = chart.convertToPixel({ xAxisIndex: 0 } as any, t) as any;
      return typeof p === "number" ? p : 272 + (t - 100) * 2.615;
    });
    chart.setOption({ graphic: buildGraphic(markerX) } as any);
    return () => chart.dispose();
  }, []);
  return (
    <div
      ref={ref}
      style={{ position: "absolute", left: 0, top: 0, width: 1998, height: 3136, background: "#fff" }}
    />
  );
}
